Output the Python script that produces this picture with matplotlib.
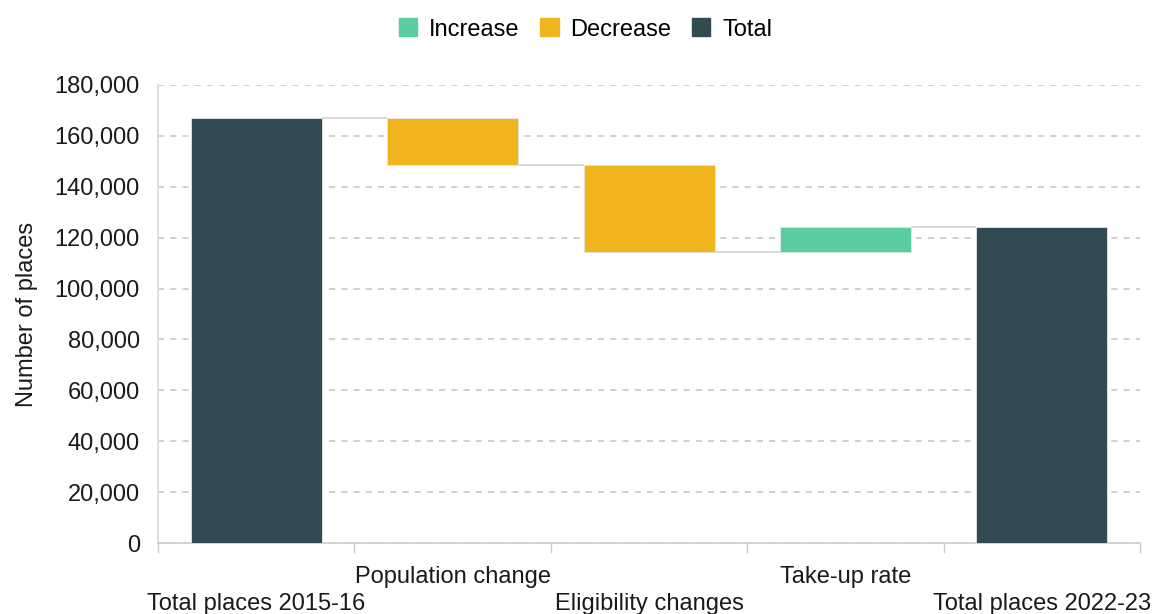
import numpy as np
import matplotlib.pyplot as plt
from matplotlib.patches import Patch

plt.rcParams['font.family'] = ['Liberation Sans', 'DejaVu Sans']

categories = ['Total places 2015-16', 'Population change', 'Eligibility changes',
              'Take-up rate', 'Total places 2022-23']
changes = [167000, -18500, -34100, 9900, None]
kinds = ['Total', 'Decrease', 'Decrease', 'Increase', 'Total']
colors = {'Increase': '#5ACEA1', 'Decrease': '#F0B41C', 'Total': '#324B52'}

# running levels
bottoms, heights, levels = [], [], []
level = 0
for c, k in zip(changes, kinds):
    if k == 'Total':
        val = level if c is None else c
        bottoms.append(0)
        heights.append(val)
        level = val
    else:
        new = level + c
        bottoms.append(min(level, new))
        heights.append(abs(c))
        level = new
    levels.append(level)

fs = 17
fig = plt.figure(figsize=(11.57, 6.14), dpi=100)
ax = fig.add_axes([0.1366, 0.1156, 0.8487, 0.746])

x = np.arange(len(categories))
w = 0.667
ax.bar(x, heights, bottom=bottoms, width=w,
       color=[colors[k] for k in kinds], edgecolor='#e6e6e6', linewidth=0.6, zorder=3)

# connectors
for i in range(len(categories) - 1):
    ax.plot([x[i] + w / 2, x[i + 1] - w / 2], [levels[i], levels[i]],
            color='#d9d9d9', linewidth=1.5, zorder=2, solid_capstyle='butt')

ax.set_xlim(-0.5, len(categories) - 0.5)
ax.set_ylim(0, 180000)
ax.set_yticks(np.arange(0, 180001, 20000))
ax.set_yticklabels([f'{v:,}' for v in range(0, 180001, 20000)], fontsize=fs, color='#1a1a1a')
ax.yaxis.grid(True, linestyle=(0, (4, 4)), color='#c4c4c4', linewidth=1.1, zorder=0)
ax.tick_params(axis='y', length=0, pad=13)

# band boundary ticks
ax.set_xticks(np.arange(-0.5, len(categories), 1.0))
ax.set_xticklabels([])
ax.tick_params(axis='x', length=7, color='#cccccc', width=1)
for i, lab in enumerate(categories):
    ax.text(i, -0.074 if i % 2 else -0.133, lab, transform=ax.get_xaxis_transform(),
            ha='center', va='center', fontsize=fs, color='#1a1a1a')

for s in ['top', 'right']:
    ax.spines[s].set_visible(False)
ax.spines['left'].set_color('#d9d9d9')
ax.spines['bottom'].set_color('#cccccc')
ax.spines['left'].set_linewidth(1.2)
ax.spines['bottom'].set_linewidth(1.2)

ax.set_ylabel('Number of places', fontsize=fs, color='#1a1a1a', labelpad=12)

handles = [Patch(color=colors[k], label=k) for k in ['Increase', 'Decrease', 'Total']]
fig.legend(handles=handles, loc='center', bbox_to_anchor=(0.506, 0.952), ncol=3,
           frameon=False, fontsize=fs, handlelength=0.8, handleheight=0.8,
           handletextpad=0.5, columnspacing=0.85, borderpad=0)

fig.savefig('out.png', dpi=100)
